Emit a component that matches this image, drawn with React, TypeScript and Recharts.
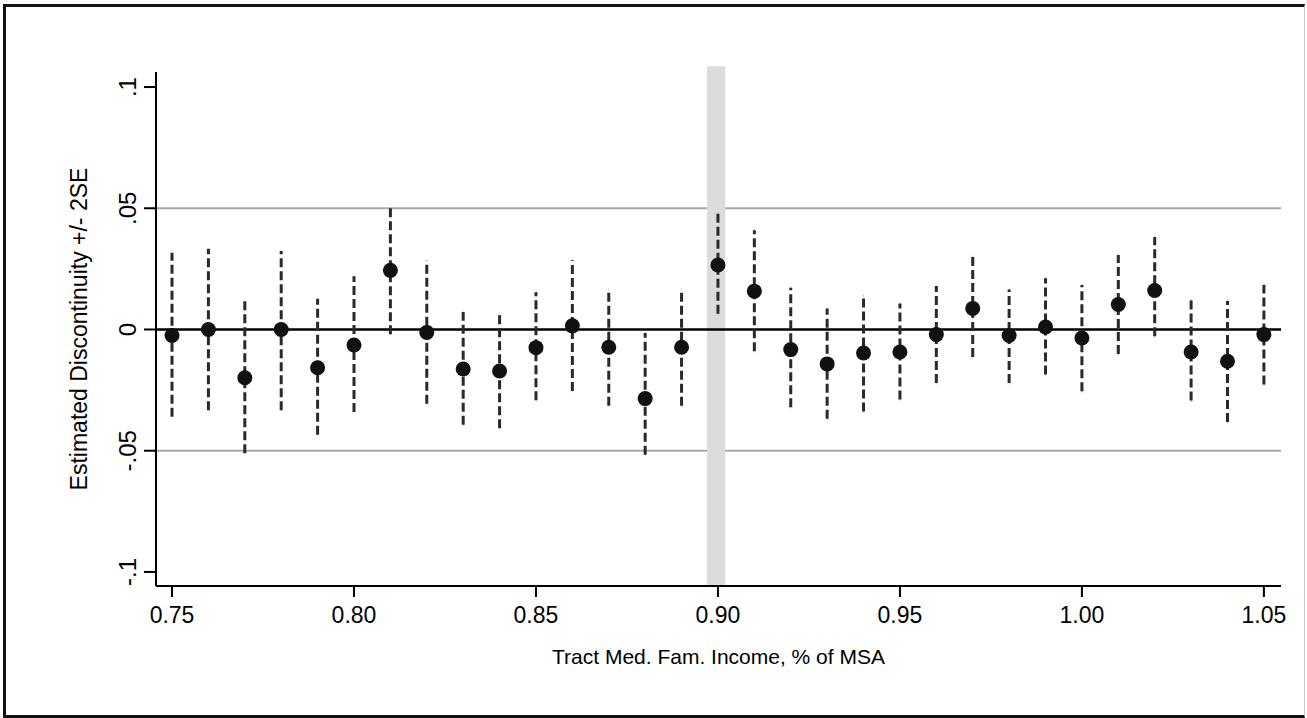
import React from 'react';
import {
  ComposedChart,
  Scatter,
  XAxis,
  YAxis,
  ErrorBar,
  ReferenceLine,
  ReferenceArea,
} from 'recharts';

// Tract median family income, share of MSA
const incomeShare = [
  0.75, 0.76, 0.77, 0.78, 0.79, 0.8, 0.81, 0.82, 0.83, 0.84, 0.85,
  0.86, 0.87, 0.88, 0.89, 0.9, 0.91, 0.92, 0.93, 0.94, 0.95, 0.96,
  0.97, 0.98, 0.99, 1.0, 1.01, 1.02, 1.03, 1.04, 1.05,
];

// Estimated discontinuity
const estimate = [
  -0.0025, 0.0, -0.0199, 0.0, -0.0158, -0.0064, 0.0244, -0.0012, -0.0163, -0.0171, -0.0075,
  0.0015, -0.0073, -0.0285, -0.0073, 0.0266, 0.0158, -0.0083, -0.0142, -0.0097, -0.0093, -0.0021,
  0.0087, -0.0025, 0.001, -0.0035, 0.0103, 0.0161, -0.0093, -0.0131, -0.0021,
];

// Estimate + 2SE
const upperBound = [
  0.0317, 0.0333, 0.0119, 0.0324, 0.0127, 0.022, 0.0515, 0.0285, 0.0072, 0.0064, 0.0154,
  0.0286, 0.0165, -0.0015, 0.0165, 0.0478, 0.0409, 0.0172, 0.0087, 0.014, 0.0107, 0.0179,
  0.0299, 0.0165, 0.0211, 0.0183, 0.0307, 0.0381, 0.012, 0.0117, 0.0183,
];

// Estimate - 2SE
const lowerBound = [
  -0.036, -0.0333, -0.051, -0.0333, -0.0434, -0.034, -0.002, -0.0306, -0.0393, -0.0407, -0.0292,
  -0.0254, -0.0315, -0.0517, -0.0315, 0.0065, -0.009, -0.0321, -0.0368, -0.0338, -0.0289, -0.0221,
  -0.0114, -0.0221, -0.0186, -0.0255, -0.0101, -0.0028, -0.0293, -0.0382, -0.0227,
];

const xTicks = [0.75, 0.8, 0.85, 0.9, 0.95, 1.0, 1.05];
const xTickLabels = ['0.75', '0.80', '0.85', '0.90', '0.95', '1.00', '1.05'];
const yTicks = [-0.1, -0.05, 0, 0.05, 0.1];
const yTickLabels = ['-.1', '-.05', '0', '.05', '.1'];
const guideLevels = [-0.05, 0.05];
const cutoffBand = [0.897, 0.902];

const xDomain = [0.7456, 1.0547];
const yDomain = [-0.1058, 0.1062];

const xTitle = 'Tract Med. Fam. Income, % of MSA';
const yTitle = 'Estimated Discontinuity +/- 2SE';

const data = incomeShare.map((x, i) => ({
  x,
  y: estimate[i],
  err: [estimate[i] - lowerBound[i], upperBound[i] - estimate[i]],
}));

const FONT = '"Liberation Sans", Arial, Helvetica, sans-serif';

const YTick = (props: any) => {
  const { x, y, payload } = props;
  const idx = yTicks.indexOf(payload.value);
  const label = idx >= 0 ? yTickLabels[idx] : String(payload.value);
  const cx = x - 15;
  return (
    <text
      x={cx}
      y={y}
      transform={`rotate(-90 ${cx} ${y})`}
      textAnchor="middle"
      dy="0.36em"
      fontSize={24}
      fontFamily={FONT}
      fill="#000"
    >
      {label}
    </text>
  );
};

const XTick = (props: any) => {
  const { x, y, payload } = props;
  const idx = xTicks.indexOf(payload.value);
  const label = idx >= 0 ? xTickLabels[idx] : String(payload.value);
  return (
    <text x={x} y={y} dy="0.78em" textAnchor="middle" fontSize={23} fontFamily={FONT} fill="#000">
      {label}
    </text>
  );
};

const renderXTitle = (props: any) => {
  const vb = props.viewBox || {};
  return (
    <text
      x={vb.x + vb.width / 2}
      y={vb.y + 78}
      textAnchor="middle"
      fontSize={21}
      fontFamily={FONT}
      fill="#000"
    >
      {xTitle}
    </text>
  );
};

const renderYTitle = (props: any) => {
  const vb = props.viewBox || {};
  const cx = vb.x + 79;
  const cy = vb.y + vb.height / 2;
  return (
    <text
      x={cx}
      y={cy}
      transform={`rotate(-90 ${cx} ${cy})`}
      textAnchor="middle"
      dy="0.36em"
      fontSize={23}
      fontFamily={FONT}
      fill="#000"
    >
      {yTitle}
    </text>
  );
};

const Dot = (props: any) => <circle cx={props.cx} cy={props.cy} r={7.5} fill="#111" />;

export default function App() {
  return (
    <div
      style={{
        position: 'absolute',
        left: 0,
        top: 0,
        width: 1307,
        height: 718,
        background: '#fff',
        overflow: 'hidden',
      }}
    >
      <div
        style={{
          position: 'absolute',
          left: 3,
          top: 4,
          width: 1302,
          height: 714,
          boxSizing: 'border-box',
          borderTop: '3px solid #111',
          borderLeft: '3px solid #111',
          borderBottom: '3px solid #111',
          borderRight: '1px solid #c8c8c8',
        }}
      />
      <div style={{ position: 'absolute', left: 0, top: 0 }}>
        <ComposedChart
          width={1307}
          height={718}
          data={data}
          margin={{ top: 72, right: 26, bottom: 0, left: 0 }}
        >
          <XAxis
            dataKey="x"
            type="number"
            domain={xDomain}
            ticks={xTicks}
            allowDataOverflow
            height={132}
            stroke="#000"
            strokeWidth={2}
            tickSize={11}
            tickMargin={8}
            tick={<XTick />}
            label={renderXTitle}
          />
          <YAxis
            dataKey="y"
            type="number"
            domain={yDomain}
            ticks={yTicks}
            allowDataOverflow
            width={156}
            stroke="#000"
            strokeWidth={2}
            tickSize={12}
            tickMargin={2}
            tick={<YTick />}
            label={renderYTitle}
          />
          {guideLevels.map((lvl) => (
            <ReferenceLine
              key={lvl}
              y={lvl}
              stroke="#a8a8a8"
              strokeWidth={2}
              zIndex={100}
            />
          ))}
          <ReferenceArea
            x1={cutoffBand[0]}
            x2={cutoffBand[1]}
            y1={yDomain[0]}
            y2={0.1086}
            fill="#dcdcdc"
            fillOpacity={1}
            stroke="none"
            ifOverflow="visible"
            zIndex={200}
          />
          <ReferenceLine y={0} stroke="#000" strokeWidth={2.5} zIndex={300} />
          <Scatter
            data={data}
            dataKey="y"
            shape={<Dot />}
            isAnimationActive={false}
            zIndex={700}
          >
            <ErrorBar
              dataKey="err"
              direction="y"
              width={0}
              stroke="#2a2a2a"
              strokeWidth={3}
              strokeDasharray="9 4"
              isAnimationActive={false}
            />
          </Scatter>
        </ComposedChart>
      </div>
    </div>
  );
}
